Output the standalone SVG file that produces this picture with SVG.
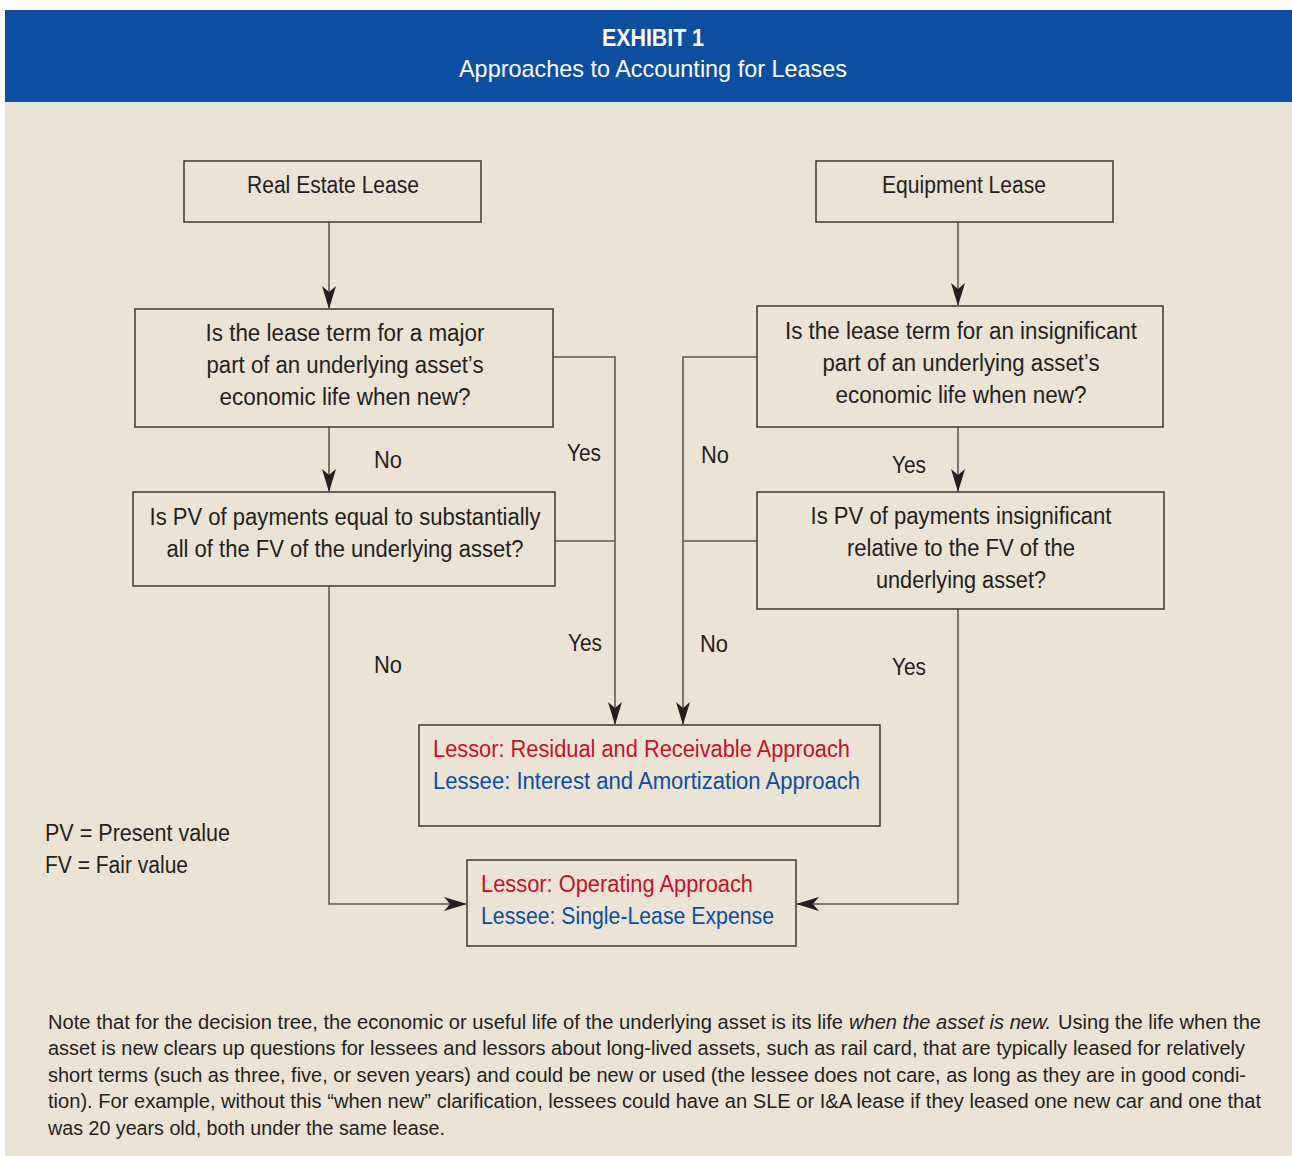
<svg xmlns="http://www.w3.org/2000/svg" width="1292" height="1156" viewBox="0 0 1292 1156">
<style>
text{font-family:"Liberation Sans",Arial,sans-serif;fill:#231f20;font-size:23px}
.box{fill:none;stroke:#3a3735;stroke-width:1.5}
.lt{text-anchor:middle}
.red{fill:#c8102e}
.blue{fill:#0c4ea2}
.conn{fill:none;stroke:#5f5a54;stroke-width:1.6}
.fn{font-size:20.5px}
</style>
<defs>
<marker id="ah" markerWidth="23" markerHeight="14" refX="22" refY="7" orient="auto" markerUnits="userSpaceOnUse">
<path d="M0,0 L23,7 L0,14 L6,7 Z" fill="#231f20"/>
</marker>
</defs>
<rect x="0" y="0" width="1292" height="1156" fill="#ffffff"/>
<rect x="5" y="102" width="1287" height="1054" fill="#ebe3d3"/>
<rect x="5" y="10" width="1287" height="92" fill="#0c4ea2"/>
<text x="653" y="46" text-anchor="middle" textLength="102" lengthAdjust="spacingAndGlyphs" style="fill:#fff;font-size:24px;font-weight:bold">EXHIBIT 1</text>
<text x="653" y="77" text-anchor="middle" textLength="388" lengthAdjust="spacingAndGlyphs" style="fill:#fff;font-size:24px">Approaches to Accounting for Leases</text>

<g id="connectors">
<path class="conn" d="M329,222 V308" marker-end="url(#ah)"/>
<path class="conn" d="M958,222 V305" marker-end="url(#ah)"/>
<path class="conn" d="M329,427 V491" marker-end="url(#ah)"/>
<path class="conn" d="M958,427 V491" marker-end="url(#ah)"/>
<path class="conn" d="M553,357 H615 V724" marker-end="url(#ah)"/>
<path class="conn" d="M555,541 H615"/>
<path class="conn" d="M757,357 H683 V724" marker-end="url(#ah)"/>
<path class="conn" d="M757,541 H683"/>
<path class="conn" d="M329,586 V904 H466" marker-end="url(#ah)"/>
<path class="conn" d="M958,609 V904 H797" marker-end="url(#ah)"/>
<text class="lt" x="388" y="468" textLength="28" lengthAdjust="spacingAndGlyphs">No</text>
<text class="lt" x="584" y="461" textLength="34" lengthAdjust="spacingAndGlyphs">Yes</text>
<text class="lt" x="715" y="463" textLength="28" lengthAdjust="spacingAndGlyphs">No</text>
<text class="lt" x="909" y="473" textLength="34" lengthAdjust="spacingAndGlyphs">Yes</text>
<text class="lt" x="585" y="651" textLength="34" lengthAdjust="spacingAndGlyphs">Yes</text>
<text class="lt" x="388" y="673" textLength="28" lengthAdjust="spacingAndGlyphs">No</text>
<text class="lt" x="714" y="652" textLength="28" lengthAdjust="spacingAndGlyphs">No</text>
<text class="lt" x="909" y="675" textLength="34" lengthAdjust="spacingAndGlyphs">Yes</text>
</g>

<g id="real-estate">
<rect class="box" x="184" y="161" width="297" height="61"/>
<text class="lt" x="333" y="193" textLength="172" lengthAdjust="spacingAndGlyphs">Real Estate Lease</text>
</g>
<g id="equipment">
<rect class="box" x="816" y="161" width="297" height="61"/>
<text class="lt" x="964" y="193" textLength="164" lengthAdjust="spacingAndGlyphs">Equipment Lease</text>
</g>
<g id="q1-left">
<rect class="box" x="135" y="309" width="418" height="118"/>
<text class="lt" x="345" y="341" textLength="279" lengthAdjust="spacingAndGlyphs">Is the lease term for a major</text>
<text class="lt" x="345" y="373" textLength="277" lengthAdjust="spacingAndGlyphs">part of an underlying asset’s</text>
<text class="lt" x="345" y="405" textLength="251" lengthAdjust="spacingAndGlyphs">economic life when new?</text>
</g>
<g id="q1-right">
<rect class="box" x="757" y="306" width="406" height="121"/>
<text class="lt" x="961" y="339" textLength="352" lengthAdjust="spacingAndGlyphs">Is the lease term for an insignificant</text>
<text class="lt" x="961" y="371" textLength="277" lengthAdjust="spacingAndGlyphs">part of an underlying asset’s</text>
<text class="lt" x="961" y="403" textLength="251" lengthAdjust="spacingAndGlyphs">economic life when new?</text>
</g>
<g id="q2-left">
<rect class="box" x="133" y="492" width="422" height="94"/>
<text class="lt" x="345" y="525" textLength="391" lengthAdjust="spacingAndGlyphs">Is PV of payments equal to substantially</text>
<text class="lt" x="345" y="557" textLength="357" lengthAdjust="spacingAndGlyphs">all of the FV of the underlying asset?</text>
</g>
<g id="q2-right">
<rect class="box" x="757" y="492" width="407" height="117"/>
<text class="lt" x="961" y="524" textLength="301" lengthAdjust="spacingAndGlyphs">Is PV of payments insignificant</text>
<text class="lt" x="961" y="556" textLength="228" lengthAdjust="spacingAndGlyphs">relative to the FV of the</text>
<text class="lt" x="961" y="588" textLength="170" lengthAdjust="spacingAndGlyphs">underlying asset?</text>
</g>
<g id="result-finance">
<rect class="box" x="419" y="725" width="461" height="101"/>
<text class="red" x="433" y="757" textLength="417" lengthAdjust="spacingAndGlyphs">Lessor: Residual and Receivable Approach</text>
<text class="blue" x="433" y="789" textLength="427" lengthAdjust="spacingAndGlyphs">Lessee: Interest and Amortization Approach</text>
</g>
<g id="result-operating">
<rect class="box" x="467" y="860" width="329" height="86"/>
<text class="red" x="481" y="892" textLength="272" lengthAdjust="spacingAndGlyphs">Lessor: Operating Approach</text>
<text class="blue" x="481" y="924" textLength="293" lengthAdjust="spacingAndGlyphs">Lessee: Single-Lease Expense</text>
</g>

<g id="legend">
<text x="45" y="841" textLength="185" lengthAdjust="spacingAndGlyphs">PV = Present value</text>
<text x="45" y="873" textLength="143" lengthAdjust="spacingAndGlyphs">FV = Fair value</text>
</g>

<g id="footnote">
<text class="fn" x="48" y="1029" textLength="795" lengthAdjust="spacingAndGlyphs">Note that for the decision tree, the economic or useful life of the underlying asset is its life</text>
<text class="fn" x="849" y="1029" textLength="202" lengthAdjust="spacingAndGlyphs" font-style="italic">when the asset is new.</text>
<text class="fn" x="1058" y="1029" textLength="203" lengthAdjust="spacingAndGlyphs">Using the life when the</text>
<text class="fn" x="48" y="1055" textLength="1197" lengthAdjust="spacingAndGlyphs">asset is new clears up questions for lessees and lessors about long-lived assets, such as rail card, that are typically leased for relatively</text>
<text class="fn" x="48" y="1082" textLength="1198" lengthAdjust="spacingAndGlyphs">short terms (such as three, five, or seven years) and could be new or used (the lessee does not care, as long as they are in good condi-</text>
<text class="fn" x="48" y="1108" textLength="1213" lengthAdjust="spacingAndGlyphs">tion). For example, without this “when new” clarification, lessees could have an SLE or I&amp;A lease if they leased one new car and one that</text>
<text class="fn" x="48" y="1135" textLength="397" lengthAdjust="spacingAndGlyphs">was 20 years old, both under the same lease.</text>
</g>
</svg>
